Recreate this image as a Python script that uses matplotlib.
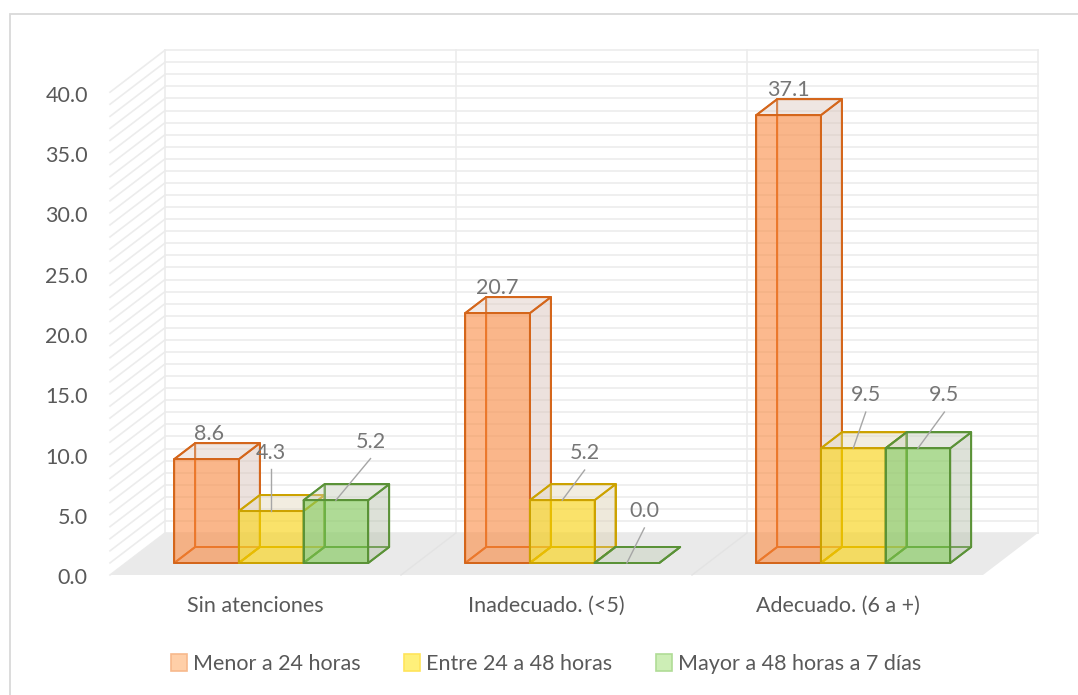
import matplotlib.pyplot as plt
from matplotlib.patches import Polygon, Patch, Rectangle

# ==========================================
# Data
# ==========================================
categories = ['Sin atenciones', 'Inadecuado. (<5)', 'Adecuado. (6 a +)']
series_names = ['Menor a 24 horas', 'Entre 24 a 48 horas', 'Mayor a 48 horas a 7 días']
menor_24 = [8.6, 20.7, 37.1]
entre_24_48 = [4.3, 5.2, 9.5]
mayor_48 = [5.2, 0.0, 9.5]
y_ticks = [0, 5, 10, 15, 20, 25, 30, 35, 40]

series_values = [menor_24, entre_24_48, mayor_48]

# ==========================================
# Styling / pseudo-3D geometry
# ==========================================
plt.rcParams['font.family'] = ['Lato', 'DejaVu Sans']
FS = 15.5
y_max = 40

# depth vector of the whole floor (data units) and bar slab inside it
DX, DY = 0.189, 3.48
Z_FRONT, Z_BACK = 0.286, 0.667
BAR_W = 1 / 4.5          # gap width 150 %
MARGIN = 0.75 / 4.5

face_cols = ['#FF883A', '#FFD500', '#7DCC52']
edge_cols = ['#D4661B', '#CCA200', '#5A9237']
side_cols = ['#D9C2B8', '#DDD3B5', '#B9C3AF']
top_cols = ['#E3D3C9', '#E9E0C6', '#D3DBCA']
legend_face = ['#FFCFA8', '#FFF07A', '#CDEEB6']
legend_edge = ['#F7B98C', '#FFE45A', '#B0DC96']

grid_col = '#ECECEC'
label_col = '#767676'
text_col = '#595959'

# data label offsets (x, y) from top-front-centre of each bar, and whether a leader line is drawn
label_offsets = [
    [(0.009, 2.05, False), (0.0, 2.05, False), (0.0, 2.1, False)],
    [(0.0, 4.85, True), (0.077, 3.9, True), (0.043, 4.4, True)],
    [(0.119, 4.85, True), (0.06, 4.3, True), (0.091, 4.4, True)],
]


def proj(x, y, z):
    return (x + z * DX, y + z * DY)


fig = plt.figure(figsize=(10.78, 6.95), dpi=100)
ax = fig.add_axes([0, 0, 1, 1])
ax.set_xlim(-110 / 291, 968 / 291)
ax.set_ylim(-120 / 12.07, 575 / 12.07)
ax.axis('off')

# chart border (only left and top visible)
fig.patches.append(Rectangle((10 / 1078, -0.1), 1.2, 1.1 - 14 / 695, transform=fig.transFigure,
                             fill=False, edgecolor='#D9D9D9', linewidth=1.3))

n_cat = len(categories)

# ==========================================
# Walls, gridlines and floor
# ==========================================
for v in range(0, y_max + 1):
    ax.plot([DX, n_cat + DX], [v + DY, v + DY], color=grid_col, lw=1.2, zorder=1)
    ax.plot([0, DX], [v, v + DY], color=grid_col, lw=1.2, zorder=1)
for k in range(n_cat + 1):
    ax.plot([k + DX, k + DX], [DY, y_max + DY], color=grid_col, lw=1.2, zorder=1)

ax.add_patch(Polygon([(0, 0), (n_cat, 0), (n_cat + DX, DY), (DX, DY)], closed=True,
                     facecolor='#EAEAEA', edgecolor='none', zorder=2))
for k in range(1, n_cat):
    ax.plot([k, k + DX], [0, DY], color='#E3E3E3', lw=1, zorder=2)

# ==========================================
# Bars (transparent boxes)
# ==========================================
zo = 3
for i in range(n_cat):
    for j, vals in enumerate(series_values):
        v = vals[i]
        x0 = i + MARGIN + j * BAR_W
        x1 = x0 + BAR_W
        ec = edge_cols[j]

        back = [proj(x0, 0, Z_BACK), proj(x1, 0, Z_BACK), proj(x1, v, Z_BACK), proj(x0, v, Z_BACK)]
        left = [proj(x0, 0, Z_FRONT), proj(x0, 0, Z_BACK), proj(x0, v, Z_BACK), proj(x0, v, Z_FRONT)]
        bottom = [proj(x0, 0, Z_FRONT), proj(x1, 0, Z_FRONT), proj(x1, 0, Z_BACK), proj(x0, 0, Z_BACK)]
        right = [proj(x1, 0, Z_FRONT), proj(x1, 0, Z_BACK), proj(x1, v, Z_BACK), proj(x1, v, Z_FRONT)]
        top = [proj(x0, v, Z_FRONT), proj(x1, v, Z_FRONT), proj(x1, v, Z_BACK), proj(x0, v, Z_BACK)]
        front = [proj(x0, 0, Z_FRONT), proj(x1, 0, Z_FRONT), proj(x1, v, Z_FRONT), proj(x0, v, Z_FRONT)]

        # semi-transparent fills, then opaque outlines
        for poly, fc, a, dz in [(back, side_cols[j], 0.25, 0), (left, side_cols[j], 0.15, 0),
                                (bottom, side_cols[j], 0.3, 0), (right, side_cols[j], 0.3, 1),
                                (top, top_cols[j], 0.3, 1)]:
            ax.add_patch(Polygon(poly, closed=True, facecolor=fc, alpha=a, edgecolor='none', zorder=zo + dz))
            ax.add_patch(Polygon(poly, closed=True, facecolor='none', edgecolor=ec, linewidth=1.4,
                                 joinstyle='round', zorder=zo + dz))
        if v > 0:
            ax.add_patch(Polygon(front, closed=True, facecolor=face_cols[j], alpha=0.55,
                                 edgecolor='none', zorder=zo + 2))
            ax.add_patch(Polygon(front, closed=True, facecolor='none', edgecolor=ec, linewidth=1.4,
                                 joinstyle='round', zorder=zo + 2))
        zo += 3

        # data label
        cx, cy = proj((x0 + x1) / 2, v, Z_FRONT)
        ox, oy, leader = label_offsets[j][i]
        ax.text(cx + ox, cy + oy, f'{v:.1f}', ha='center', va='center', fontsize=FS,
                color=label_col, zorder=100)
        if leader:
            ax.plot([cx + ox, cx], [cy + oy - 1.4, cy], color='#A6A6A6', lw=1, zorder=99)

# ==========================================
# Axis labels
# ==========================================
for t in y_ticks:
    ax.annotate(f'{t:.1f}', (0, t), xytext=(-16, -2.5), textcoords='offset points',
                ha='right', va='center', fontsize=FS, color=text_col)

for i, cat in enumerate(categories):
    ax.annotate(cat, (i + 0.5, 0), xytext=(0, -22.5), textcoords='offset points',
                ha='center', va='center', fontsize=FS, color=text_col)

handles = [Patch(facecolor=legend_face[k], edgecolor=legend_edge[k], linewidth=1.2)
           for k in range(len(series_names))]
fig.legend(handles, series_names, loc='center', bbox_to_anchor=(0.5065, 0.0446), ncol=3,
           frameon=False, fontsize=FS, labelcolor=text_col, handlelength=0.75, handleheight=0.85,
           handletextpad=0.3, columnspacing=2.0)

fig.savefig('out.png', dpi=100)
